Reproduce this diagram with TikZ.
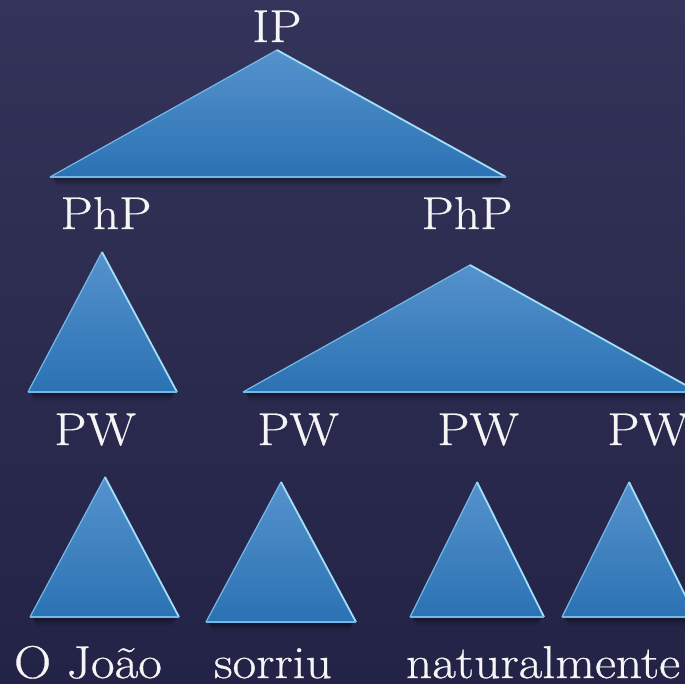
\documentclass[tikz,border=0pt]{standalone}
\usepackage{fontspec}
\newfontfamily\lblfont{Latin Modern Roman}[FakeStretch=1.12,FakeBold=0.6]
\usetikzlibrary{calc}
\definecolor{bgtop}{HTML}{34345A}
\definecolor{bgbot}{HTML}{232347}
\definecolor{tritop}{HTML}{5592CD}
\definecolor{tribot}{HTML}{2B72B3}
\definecolor{edgehi}{HTML}{A2E0FA}
\definecolor{edgelo}{HTML}{74B8E8}
\tikzset{
  lbl/.style={text=white!96!black, font=\lblfont\fontsize{46}{50}\selectfont, inner sep=0pt, anchor=base},
}
% glossy blue triangle: #1 apex, #2 left base corner, #3 right base corner
\newcommand\bluetri[3]{%
  \foreach \d/\o in {9/0.06,7/0.08,5/0.12,3/0.16}{%
    \fill[black,opacity=\o] ($(#2)+(2,0)$) -- ($(#3)+(-2,0)$) -- ($(#3)+(-6,\d)$) -- ($(#2)+(6,\d)$) -- cycle;}
  \shade[top color=tritop,bottom color=tribot] (#1) -- (#2) -- (#3) -- cycle;
  \draw[edgelo,line width=1.2pt,line join=round] (#2) -- (#1);
  \draw[edgehi,line width=1.8pt] (#1) -- (#3);
  \draw[edgelo,line width=1.6pt] (#2) -- (#3);
}
\begin{document}
\begin{tikzpicture}[x=1pt,y=-1pt]
  \useasboundingbox (0,0) rectangle (685,683);
  \clip (0,0) rectangle (685,683);
  \shade[top color=bgtop,bottom color=bgbot] (0,0) rectangle (685,683);

  % triangle corners
  \coordinate (ipA) at (277,50);  \coordinate (ipL) at (50,177);  \coordinate (ipR) at (506,177);
  \coordinate (p1A) at (102,252); \coordinate (p1L) at (28,392);  \coordinate (p1R) at (177,392);
  \coordinate (p2A) at (470,265); \coordinate (p2L) at (243,392); \coordinate (p2R) at (698,392);
  \coordinate (w1A) at (105,477); \coordinate (w1L) at (30,617);  \coordinate (w1R) at (179,617);
  \coordinate (w2A) at (281,482); \coordinate (w2L) at (206,622); \coordinate (w2R) at (356,622);
  \coordinate (w3A) at (477,482); \coordinate (w3L) at (410,617); \coordinate (w3R) at (544,617);
  \coordinate (w4A) at (629,482); \coordinate (w4L) at (562,617); \coordinate (w4R) at (696,617);

  \bluetri{ipA}{ipL}{ipR}
  \bluetri{p1A}{p1L}{p1R}
  \bluetri{p2A}{p2L}{p2R}
  \bluetri{w1A}{w1L}{w1R}
  \bluetri{w2A}{w2L}{w2R}
  \bluetri{w3A}{w3L}{w3R}
  \bluetri{w4A}{w4L}{w4R}

  % labels
  \node[lbl] (ip) at (277,42) {IP};
  \node[lbl] (php1) at (106,229) {PhP};
  \node[lbl] (php2) at (467,229) {PhP};
  \node[lbl] (pw1) at (95,445) {PW};
  \node[lbl] (pw2) at (298,445) {PW};
  \node[lbl] (pw3) at (478,445) {PW};
  \node[lbl] (pw4) at (648,445) {PW};
  \node[lbl] (joao) at (88,678) {O João};
  \node[lbl] (sorriu) at (273,678) {sorriu};
  \node[lbl] (nat) at (543,678) {naturalmente};
\end{tikzpicture}
\end{document}
